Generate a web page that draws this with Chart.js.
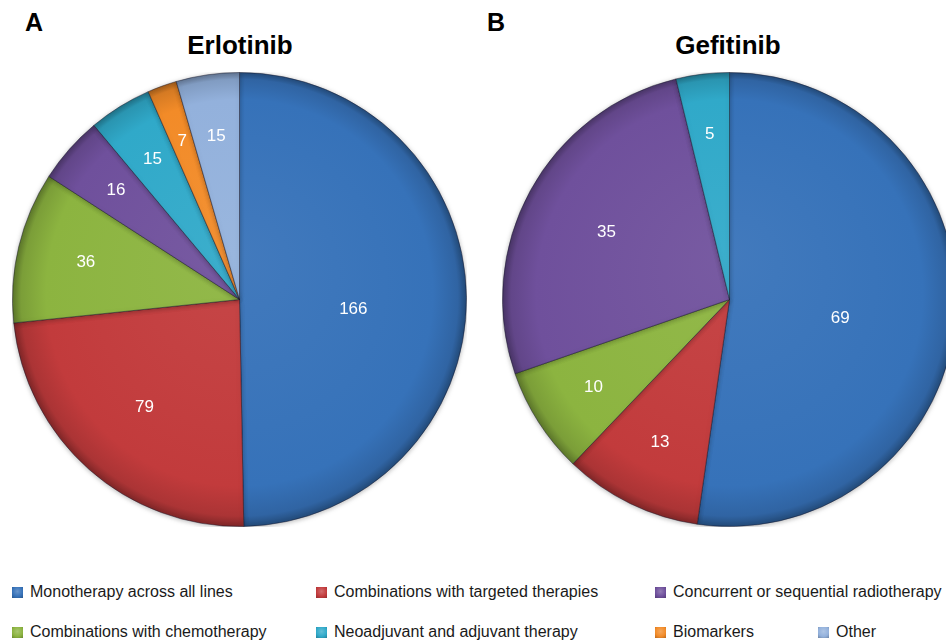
<!DOCTYPE html>
<html>
<head>
<meta charset="utf-8">
<script src="https://cdn.jsdelivr.net/npm/chart.js@4.4.1/dist/chart.umd.min.js"></script>
<style>
  html, body { margin: 0; padding: 0; background: #ffffff; }
  body { width: 946px; height: 640px; position: relative; overflow: hidden; font-family: "Liberation Sans", Arial, sans-serif; }
  .panel { position: absolute; font-weight: bold; font-size: 25px; color: #000; }
  .title { position: absolute; font-weight: bold; font-size: 26px; color: #000; text-align: center; width: 300px; }
  .pie { position: absolute; width: 455px; height: 455px; }
  .leg { position: absolute; font-size: 16px; color: #1a1a1a; white-space: nowrap; line-height: 18px; }
  .leg i { display: inline-block; width: 11px; height: 11px; margin-right: 7px; vertical-align: -1px; }
</style>
</head>
<body>
<div class="panel" style="left:25px; top:8px;">A</div>
<div class="panel" style="left:487px; top:8px;">B</div>
<div class="title" style="left:90px; top:30px;">Erlotinib</div>
<div class="title" style="left:578px; top:30px;">Gefitinib</div>
<div class="pie" style="left:12px; top:72px;"><canvas id="pieA"></canvas></div>
<div class="pie" style="left:502px; top:72px;"><canvas id="pieB"></canvas></div>
<div id="legend"></div>
<script>
// ---- data ----
const categories = [
  "Monotherapy across all lines",
  "Combinations with targeted therapies",
  "Combinations with chemotherapy",
  "Concurrent or sequential radiotherapy",
  "Neoadjuvant and adjuvant therapy",
  "Biomarkers",
  "Other"
];
const erlotinibValues = [166, 79, 36, 16, 15, 7, 15];
const gefitinibCategories = categories.slice(0, 5);
const gefitinibValues = [69, 13, 10, 35, 5];
const legendOrder = [0, 1, 3, 2, 4, 5, 6];

// ---- styles ----
const colors = ["#3672b9", "#c23b3c", "#8cb440", "#6f509c", "#30a9c9", "#f28b28", "#93b1dc"];

function shade(hex, amt) {
  const n = parseInt(hex.slice(1), 16);
  let r = (n >> 16) & 255, g = (n >> 8) & 255, b = n & 255;
  if (amt >= 0) { r += (255 - r) * amt; g += (255 - g) * amt; b += (255 - b) * amt; }
  else { r *= (1 + amt); g *= (1 + amt); b *= (1 + amt); }
  return `rgb(${Math.round(r)},${Math.round(g)},${Math.round(b)})`;
}

function gradFill(ctx) {
  const base = colors[ctx.dataIndex % colors.length];
  const chart = ctx.chart;
  const area = chart.chartArea;
  if (!area) return base;
  const cx = (area.left + area.right) / 2, cy = (area.top + area.bottom) / 2;
  const R = Math.min(area.right - area.left, area.bottom - area.top) / 2;
  const g = chart.ctx.createRadialGradient(cx, cy - R * 0.2, 0, cx, cy, R);
  g.addColorStop(0, shade(base, 0.06));
  g.addColorStop(0.85, base);
  g.addColorStop(0.96, shade(base, -0.12));
  g.addColorStop(1, shade(base, -0.35));
  return g;
}

const labelPlugin = {
  id: "sliceLabels",
  afterDatasetsDraw(chart) {
    const ctx = chart.ctx;
    const meta = chart.getDatasetMeta(0);
    const data = chart.data.datasets[0].data;
    const total = data.reduce((a, b) => a + b, 0);
    ctx.save();
    ctx.fillStyle = "#ffffff";
    ctx.font = '17px "Liberation Sans", Arial, sans-serif';
    ctx.textAlign = "center";
    ctx.textBaseline = "middle";
    meta.data.forEach((arc, i) => {
      const v = data[i];
      if (!v) return;
      const p = arc.getProps(["x", "y", "startAngle", "endAngle", "outerRadius"], true);
      const mid = (p.startAngle + p.endAngle) / 2;
      const frac = v / total;
      const r = p.outerRadius * (0.75 - 0.5 * frac);
      const dy = frac > 0.4 ? p.outerRadius * 0.05 : 0;
      ctx.fillText(String(v), p.x + Math.cos(mid) * r, p.y + Math.sin(mid) * r + dy);
    });
    ctx.restore();
  }
};

const shadowPlugin = {
  id: "softShadow",
  beforeDatasetsDraw(chart) {
    const c = chart.ctx;
    c.save();
    c.shadowColor = "rgba(0,0,0,0.28)";
    c.shadowBlur = 5;
    c.shadowOffsetX = 0;
    c.shadowOffsetY = 1;
  },
  afterDatasetsDraw(chart) {
    chart.ctx.restore();
  }
};

function makePie(id, labels, values) {
  return new Chart(document.getElementById(id), {
    type: "pie",
    data: {
      labels: labels,
      datasets: [{
        data: values,
        backgroundColor: gradFill,
        borderColor: "rgba(20,20,40,0.45)",
        borderWidth: 1
      }]
    },
    options: {
      responsive: true,
      maintainAspectRatio: false,
      animation: false,
      layout: { padding: 0 },
      plugins: {
        legend: { display: false },
        title: { display: false },
        tooltip: { enabled: false }
      }
    },
    plugins: [shadowPlugin, labelPlugin]
  });
}

makePie("pieA", categories, erlotinibValues);
makePie("pieB", gefitinibCategories, gefitinibValues);

// ---- legend (HTML) ----
const legendPos = [
  [12, 583], [316, 583], [655, 583],
  [12, 623], [316, 623], [655, 623], [818, 623]
];
const legendEl = document.getElementById("legend");
legendOrder.forEach((ci, k) => {
  const d = document.createElement("div");
  d.className = "leg";
  d.style.left = legendPos[k][0] + "px";
  d.style.top = legendPos[k][1] + "px";
  const c = colors[ci];
  d.innerHTML = `<i style="background: radial-gradient(circle at 50% 40%, ${shade(c, 0.25)} 0%, ${c} 60%, ${shade(c, -0.25)} 100%);"></i>` + categories[ci];
  legendEl.appendChild(d);
});
</script>
</body>
</html>
